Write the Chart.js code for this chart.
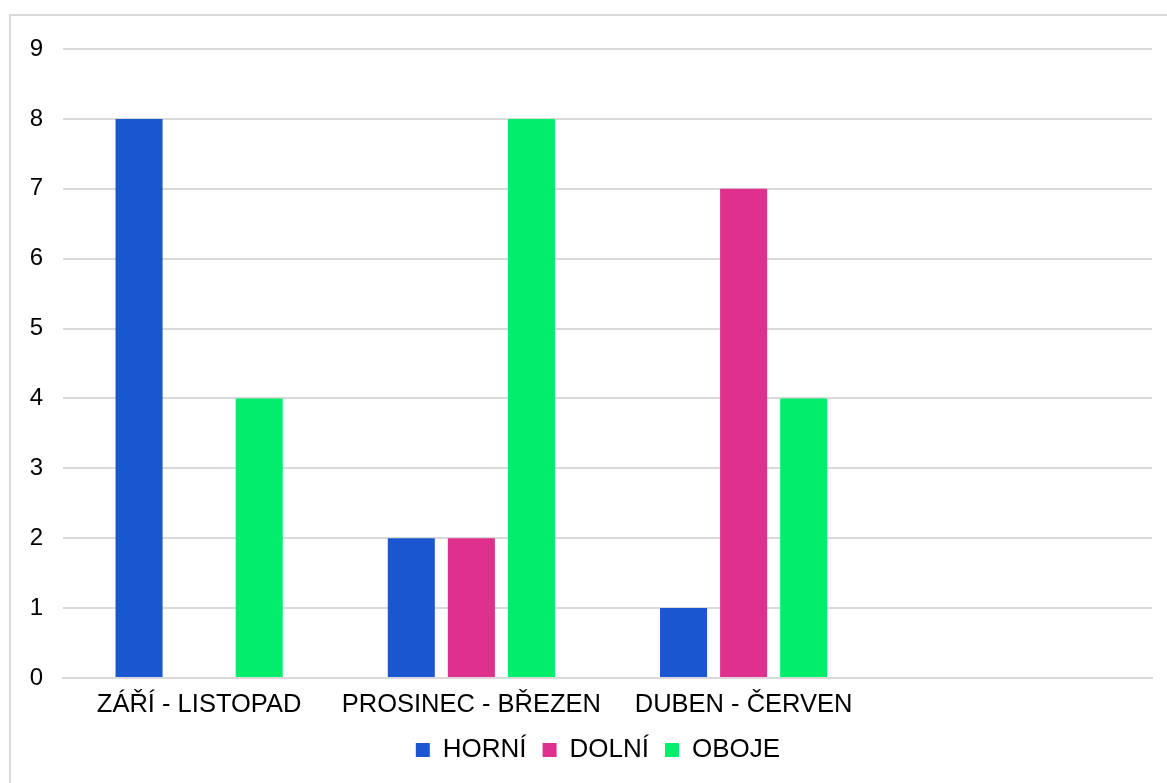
<!DOCTYPE html>
<html>
<head>
<meta charset="utf-8">
<script src="https://cdn.jsdelivr.net/npm/chart.js@4.4.0/dist/chart.umd.min.js"></script>
<style>
  html, body { margin: 0; padding: 0; background: #fff; overflow: hidden; }
  #frame { position: absolute; left: 9px; top: 14px; width: 1300px; height: 900px; border: 2px solid #d9d9d9; }
  #wrap { position: absolute; left: 0; top: 0; width: 1167px; height: 783px; }
</style>
</head>
<body>
<div id="frame"></div>
<div id="wrap"><canvas id="chart"></canvas></div>
<script>
// ---------- Data ----------
const categories = ['ZÁŘÍ - LISTOPAD', 'PROSINEC - BŘEZEN', 'DUBEN - ČERVEN', ''];
const horni = [8, 2, 1, null];
const dolni = [0, 2, 7, null];
const oboje = [4, 8, 4, null];
const yTicks = [0, 1, 2, 3, 4, 5, 6, 7, 8, 9];

const fontFamily = '"Liberation Sans", Arial, sans-serif';
const gridColor = '#d9d9d9';

// legend sits a bit right of the chart centre in the original
const legendShift = {
    id: 'legendShift',
    afterLayout(chart) {
        chart.legend.left += 22;
        chart.legend.right += 22;
    }
};

const ctx = document.getElementById('chart').getContext('2d');
new Chart(ctx, {
    type: 'bar',
    data: {
        labels: categories,
        datasets: [
            { label: 'HORNÍ', data: horni, backgroundColor: '#1A56D0' },
            { label: 'DOLNÍ', data: dolni, backgroundColor: '#E0308D' },
            { label: 'OBOJE', data: oboje, backgroundColor: '#00EE6B' }
        ]
    },
    plugins: [legendShift],
    options: {
        responsive: true,
        maintainAspectRatio: false,
        animation: false,
        categoryPercentage: 0.662,
        barPercentage: 0.783,
        layout: { padding: { left: 0, right: 15, top: 49, bottom: 10 } },
        plugins: {
            tooltip: { enabled: false },
            legend: {
                position: 'bottom',
                labels: {
                    color: '#000',
                    font: { family: fontFamily, size: 26 },
                    usePointStyle: true,
                    pointStyle: 'rect',
                    boxWidth: 14,
                    boxHeight: 14,
                    padding: 16
                }
            }
        },
        scales: {
            x: {
                grid: { display: false, drawTicks: false },
                border: { color: gridColor, width: 2 },
                ticks: { color: '#000', font: { family: fontFamily, size: 25.5 }, padding: 12, maxRotation: 0 },
                afterFit: s => { s.height = 43; }
            },
            y: {
                min: 0,
                max: yTicks[yTicks.length - 1],
                afterBuildTicks: s => { s.ticks = yTicks.map(v => ({ value: v })); },
                grid: { color: gridColor, lineWidth: 2, drawTicks: false },
                border: { display: false },
                ticks: { color: '#000', font: { family: fontFamily, size: 24 }, padding: 20 },
                afterFit: s => { s.width = 63; }
            }
        }
    }
});
</script>
</body>
</html>
